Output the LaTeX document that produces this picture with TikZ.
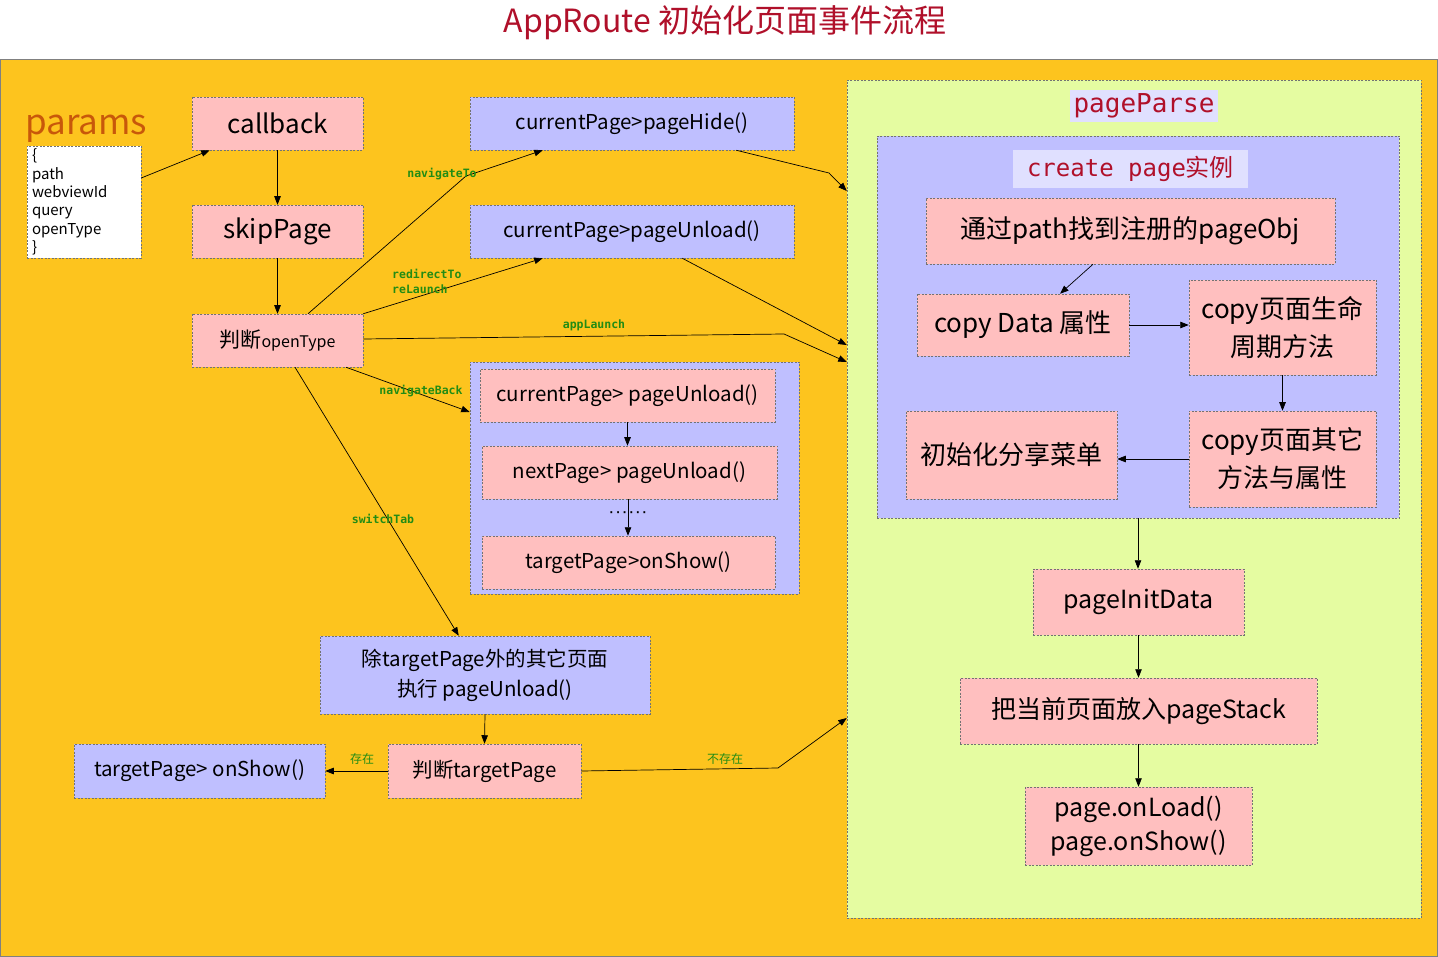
\documentclass[tikz,border=0pt]{standalone}
\usepackage{fontspec}
\setmainfont{Noto Sans CJK SC}
\newfontfamily\cjk{Noto Sans CJK SC}
\newfontfamily\mono{DejaVu Sans Mono}
\usetikzlibrary{arrows.meta,calc}
\definecolor{orangebg}{RGB}{253,196,30}
\definecolor{pinkc}{RGB}{255,191,191}
\definecolor{bluec}{RGB}{191,191,255}
\definecolor{greenbg}{RGB}{229,252,161}
\definecolor{lavc}{RGB}{224,224,255}
\definecolor{titlered}{RGB}{176,16,42}
\definecolor{labelgreen}{RGB}{34,140,20}
\definecolor{paramsc}{RGB}{200,88,10}
\newcommand\fz[2]{\fontsize{#1}{#2}\selectfont}
\tikzset{
  box/.style={draw=black!55, dash pattern=on 2pt off 1.5pt, line width=0.5pt, inner sep=0pt, align=center, text=black},
  pinkbox/.style={box, fill=pinkc},
  bluebox/.style={box, fill=bluec},
  lbl/.style={font=\mono\bfseries\fz{11.5}{13}, text=labelgreen, inner sep=0pt},
  cjklbl/.style={font=\fz{12}{14}, text=labelgreen, inner sep=0pt},
  arr/.style={-{Triangle[length=8.5pt,width=6.5pt]}, line width=0.7pt, black},
}
\begin{document}
\begin{tikzpicture}[x=1pt,y=-1pt]
\useasboundingbox (0,0) rectangle (1438,957);
\fill[white] (0,0) rectangle (1438,957);
% title
\node[font=\fz{32}{36}, text=titlered, inner sep=0pt] (title) at (725,23) {AppRoute 初始化页面事件流程};
% orange background
\draw[fill=orangebg, draw=black!50, line width=0.8pt] (0.4,59.4) rectangle (1437.6,956.6);

% params
\node[font=\fz{35}{40}, text=paramsc, anchor=base west, inner sep=0pt] (paramstitle) at (25,135) {params};
\node[box, fill=white, minimum width=114pt, minimum height=112pt, text width=104pt, align=left, inner xsep=5pt, inner ysep=1pt, font=\fz{15}{18.3}] (params) at (84,202) {\{\\path\\webviewId\\query\\openType\\\}};

% left column
\node[pinkbox, minimum width=171pt, minimum height=53pt, font=\fz{26}{30}] (callback) at (277.5,123.5) {callback};
\node[pinkbox, minimum width=171pt, minimum height=53pt, font=\fz{26}{30}] (skip) at (277.5,231.5) {skipPage};
\node[pinkbox, minimum width=171pt, minimum height=53pt, font=\fz{21}{25}] (open) at (277.5,340.5) {判断{\fz{16}{20}openType}};

\node[bluebox, minimum width=324pt, minimum height=53pt, font=\fz{20.5}{25}] (hide) at (632,123.5) {currentPage>pageHide()};
\node[bluebox, minimum width=324pt, minimum height=53pt, font=\fz{20.5}{25}] (unload) at (632,231.5) {currentPage>pageUnload()};

\node[bluebox, minimum width=329pt, minimum height=232pt] (group) at (634.5,478) {};
\node[pinkbox, minimum width=295pt, minimum height=53pt, font=\fz{20.5}{25}] (cu) at (627.5,395.5) {currentPage> pageUnload()};
\node[pinkbox, minimum width=295pt, minimum height=53pt, font=\fz{20.5}{25}] (nu) at (629.5,472.5) {nextPage> pageUnload()};
\node[pinkbox, minimum width=293pt, minimum height=53pt, font=\fz{20.5}{25}] (ts) at (628.5,562.5) {targetPage>onShow()};

\node[bluebox, minimum width=330pt, minimum height=78pt, font=\fz{20.5}{30}] (except) at (485,675) {除targetPage外的其它页面\\执行 pageUnload()};
\node[bluebox, minimum width=251pt, minimum height=54pt, font=\fz{20.5}{25}] (tshow) at (199.5,771) {targetPage> onShow()};
\node[pinkbox, minimum width=193pt, minimum height=54pt, font=\fz{20.5}{25}] (judge) at (484.5,771) {判断targetPage};

% right side
\node[box, fill=greenbg, minimum width=574pt, minimum height=838pt] (green) at (1134,499) {};
\node[fill=lavc, minimum width=148pt, minimum height=32pt, inner sep=0pt, text=titlered, font=\mono\fz{26}{30}] (pp) at (1144,106) {pageParse};
\node[bluebox, minimum width=522pt, minimum height=382pt] (inner) at (1138,327) {};
\node[fill=lavc, minimum width=235pt, minimum height=38pt, inner sep=0pt, text=titlered, font=\fz{24}{28}] (cp) at (1130.5,169) {{\mono create page}{\cjk 实例}};
\node[pinkbox, minimum width=409pt, minimum height=66pt, font=\fz{26}{30}] (find) at (1130.5,231) {通过path找到注册的pageObj};
\node[pinkbox, minimum width=212pt, minimum height=62pt, font=\fz{26}{30}] (cdata) at (1023,325) {copy Data 属性};
\node[pinkbox, minimum width=187pt, minimum height=95pt, font=\fz{26}{38}] (life) at (1282.5,327.5) {copy页面生命\\周期方法};
\node[pinkbox, minimum width=187pt, minimum height=96pt, font=\fz{26}{38}] (other) at (1282.5,459) {copy页面其它\\方法与属性};
\node[pinkbox, minimum width=211pt, minimum height=88pt, font=\fz{26}{30}] (share) at (1011.5,455) {初始化分享菜单};
\node[pinkbox, minimum width=211pt, minimum height=66pt, font=\fz{25}{30}] (init) at (1138.5,602) {pageInitData};
\node[pinkbox, minimum width=357pt, minimum height=66pt, font=\fz{25}{30}] (stack) at (1138.5,711) {把当前页面放入pageStack};
\node[pinkbox, minimum width=227pt, minimum height=78pt, font=\fz{25}{34}] (load) at (1138.5,826) {page.onLoad()\\page.onShow()};

% connectors left
\draw[arr] (params.east |- 0,178) -- ($(callback.south west)+(18,0)$);
\draw[arr] (callback.south) -- (skip.north);
\draw[arr] (skip.south) -- (open.north);
\draw[arr] ($(open.north)+(30.5,0)$) -- (466,176) -- ($(hide.south west)+(73,0)$);
\draw[arr] (open.north east) -- ($(unload.south west)+(73,0)$);
\draw[arr] (open.east |- 0,339) -- (784,334) -- (green.west |- 0,362);
\draw[arr] ($(hide.south east)+(-58,0)$) -- (829,173) -- (green.west |- 0,191);
\draw[arr] ($(unload.south east)+(-112,0)$) -- (green.west |- 0,345);
\draw[arr] ($(open.south)+(68.5,0)$) -- (group.west |- 0,412);
\draw[arr] ($(open.south)+(17.5,0)$) -- ($(except.north west)+(139,0)$);
\draw[arr] (cu.south) -- (cu.south |- nu.north);
\draw[arr] (628,499) -- (ts.north -| 628,0);
\node[inner sep=0pt, font=\mono\bfseries\fz{11}{12}] (dots) at (628,514) {······};
\draw[arr] (except.south) -- (judge.north);
\draw[arr] (judge.west) -- (tshow.east);
\draw[arr] (judge.east) -- (778,768) -- (green.west |- 0,718);

% labels
\node[lbl] (l1) at (442,174) {navigateTo};
\node[lbl, align=left, anchor=west, font=\mono\bfseries\fz{11.5}{15}] (l2) at (392,281.5) {redirectTo\\reLaunch};
\node[lbl] (l3) at (594,325) {appLaunch};
\node[lbl] (l4) at (421,391) {navigateBack};
\node[lbl] (l5) at (383,519) {switchTab};
\node[cjklbl] (l6) at (362,759) {存在};
\node[cjklbl] (l7) at (725,759) {不存在};

% connectors right
\draw[arr] ($(find.south)+(-37.5,0)$) -- ($(cdata.north)+(37,0)$);
\draw[arr] (cdata.east) -- (life.west |- cdata.east);
\draw[arr] (life.south) -- (other.north);
\draw[arr] (other.west) -- (share.east |- other.west);
\draw[arr] (inner.south) -- (inner.south |- init.north);
\draw[arr] (init.south) -- (stack.north);
\draw[arr] (stack.south) -- (load.north);
\end{tikzpicture}
\end{document}
